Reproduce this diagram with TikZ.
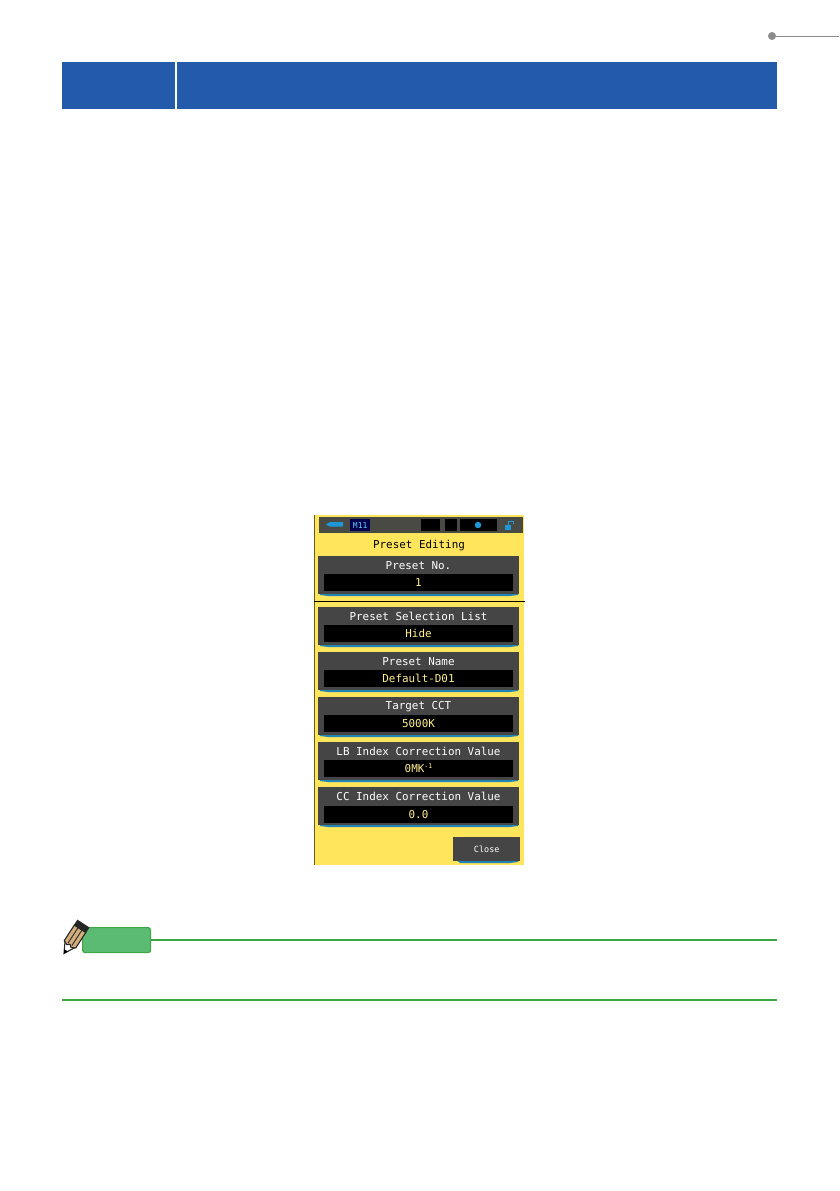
\documentclass[tikz,border=0pt]{standalone}
\usepackage{fontspec}
\setmainfont{DejaVu Sans Mono}
\definecolor{hdr}{HTML}{245AAA}
\definecolor{scr}{HTML}{FFE55C}
\definecolor{pan}{HTML}{454545}
\definecolor{val}{HTML}{FFF08C}
\definecolor{tl}{HTML}{1F85B4}
\definecolor{tabf}{HTML}{5CBB72}
\definecolor{tabl}{HTML}{3DA745}
\definecolor{wood}{HTML}{D4AE7C}
\definecolor{barc}{HTML}{4A4A44}
\definecolor{icon}{HTML}{1E96D8}
\tikzset{
 blk/.style={fill=black,draw=none,inner sep=0pt,outer sep=0pt},
 panelbox/.style={fill=pan,draw=none},
 lab/.style={text=white,font=\fontsize{10.9}{12}\selectfont,inner sep=0pt},
 vallab/.style={text=val,font=\fontsize{10.9}{12}\selectfont,inner sep=0pt},
 shadowfill/.style={fill=tl,draw=none},
 hdrbox/.style={fill=hdr,draw=none},
 greenrule/.style={draw=tabl,line width=1.4pt}
}
\newcommand{\panelrow}[5]{% name, top y, inner top y, label, value
 \fill[shadowfill] (319,#2+36) -- (519,#2+36) -- (518,#2+39) -- (510,#2+40) -- (328,#2+40) -- (320,#2+39) -- cycle;
 \node[panelbox,minimum width=201pt,minimum height=38pt,inner sep=0pt,anchor=north west] (#1) at (318,#2) {};
 \node[blk,minimum width=189pt,minimum height=17pt,anchor=north west] (#1v) at (324,#3) {};
 \node[lab] (#1t) at (418.5,#2+9.5) {#4};
 \node[vallab] (#1w) at (#1v.center) {#5};
}
\begin{document}
\begin{tikzpicture}[x=1pt,y=-1pt]
\useasboundingbox (0,0) rectangle (839,1191);
\fill[white] (0,0) rectangle (839,1191);
% page marker
\node[circle,fill=black!45,minimum size=8pt,inner sep=0pt] (dot) at (772,36) {};
\coordinate (edge) at (839,36);
\draw[black!45,line width=0.9pt] (dot.center) -- (edge);
% header
\node[hdrbox,minimum width=113pt,minimum height=47pt,inner sep=0pt,anchor=north west] (h1) at (62,62) {};
\node[hdrbox,minimum width=600pt,minimum height=47pt,inner sep=0pt,anchor=north west] (h2) at (177,62) {};
% screen
\node[fill=scr,minimum width=210pt,minimum height=350pt,inner sep=0pt,anchor=north west] (screen) at (314,515) {};
\draw[black!60!scr,line width=0.8pt] (314.4,515) -- (314.4,865);
\node[fill=barc,minimum width=204pt,minimum height=16pt,inner sep=0pt,anchor=north west] (bar) at (319,517) {};
\fill[icon] (330,522) -- (343,522) -- (343,526.5) -- (330,526.5) -- (326,524.5) -- cycle;
\node[fill=black!70!blue,minimum width=20pt,minimum height=12pt,inner sep=0pt,anchor=north west,text=cyan!60!white,font=\fontsize{8}{9}\selectfont] (m11) at (350,519) {M11};
\node[blk,minimum width=19pt,minimum height=12pt,anchor=north west] (s1) at (421,519) {};
\node[blk,minimum width=12pt,minimum height=12pt,anchor=north west] (s2) at (445,519) {};
\node[blk,minimum width=37pt,minimum height=12pt,anchor=north west] (s3) at (460,519) {};
\node[circle,fill=icon,minimum size=6.5pt,inner sep=0pt] (sd) at (478,525) {};
\fill[icon] (505,524.5) rectangle (510.5,530);
\draw[icon,line width=1pt] (508,524.5) -- (508,521.5) -- (513,521.5) -- (513,524);
\node[text=black,font=\fontsize{10.9}{12}\selectfont,inner sep=0pt] (title) at (419,545.5) {Preset Editing};
\panelrow{p1}{556}{574}{Preset No.}{1}
\node[fill=black,minimum width=211pt,minimum height=1pt,inner sep=0pt,anchor=north west] (sep) at (314,600.3) {};
\panelrow{p2}{607}{625}{Preset Selection List}{Hide}
\panelrow{p3}{652}{670}{Preset Name}{Default-D01}
\panelrow{p4}{697}{715}{Target CCT}{5000K}
\panelrow{p5}{742}{760}{LB Index Correction Value}{0MK\raisebox{4pt}{\fontsize{6.5}{7}\selectfont -1}}
\panelrow{p6}{787}{806}{CC Index Correction Value}{0.0}
\fill[shadowfill] (455,859) -- (519,859) -- (518,862) -- (510,863) -- (460,863) -- cycle;
\node[fill=pan,minimum width=67pt,minimum height=24pt,inner sep=0pt,anchor=north west,text=white,font=\fontsize{8.5}{10}\selectfont] (close) at (453,837) {Close};
% note
\node[fill=tabf,draw=tabl,line width=1.2pt,rounded corners=2.5pt,minimum width=68pt,minimum height=25pt,inner sep=0pt,anchor=north west] (tab) at (82,927) {};
\coordinate (r1) at (777,939);
\draw[greenrule] (tab.east) -- (r1 |- tab.east);
\coordinate (l2) at (62,1000);
\coordinate (r2) at (777,1000);
\draw[greenrule] (l2) -- (r2);
% pencil
\begin{scope}[shift={(64,953.5)},rotate=-33,scale=0.85]
 \fill[white,draw=black!85,line width=1.1pt] (0,0) -- (-7,-13) -- (7,-13) -- cycle;
 \fill[black] (0,0) -- (-2.5,-4.5) -- (2.5,-4.5) -- cycle;
 \fill[wood,draw=black!85,line width=1.1pt] (-8,-13) -- (-8,-35) -- (8,-35) -- (8,-13) -- (3,-10.5) -- (0,-13) -- (-3,-10.5) -- cycle;
 \draw[black!80,line width=1pt] (-2.7,-13) -- (-2.7,-35) (2.7,-13) -- (2.7,-35);
 \fill[black!85] (-8.5,-34) rectangle (8.5,-42);
\end{scope}
\end{tikzpicture}
\end{document}
